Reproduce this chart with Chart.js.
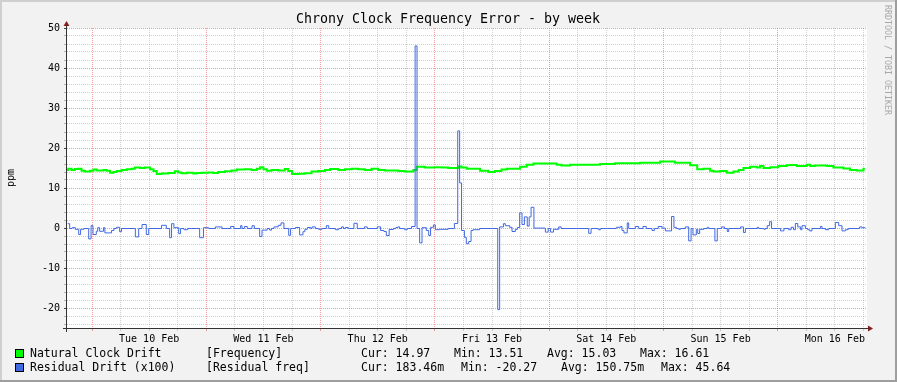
<!DOCTYPE html>
<html>
<head>
<meta charset="utf-8">
<script src="https://cdn.jsdelivr.net/npm/chart.js@4"></script>
<style>
  html,body{margin:0;padding:0;background:#f2f2f2}
  canvas{display:block}
</style>
</head>
<body>
<canvas id="c" width="897" height="382"></canvas>
<script>
// time axis: hours since Mon 9 Feb 00:00
const T_START = 18.75, T_END = 186.75;
const dayHours = [36, 60, 84, 108, 132, 156, 180];
const dayLabels = ['Tue 10 Feb','Wed 11 Feb','Thu 12 Feb','Fri 13 Feb','Sat 14 Feb','Sun 15 Feb','Mon 16 Feb'];
const gridHours = [24,30,36,42,48,54,60,66,72,78,84,90,96,102,108,114,120,126,132,138,144,150,156,162,168,174,180,186];
const yTicks = [-24,-22,-20,-18,-16,-14,-12,-10,-8,-6,-4,-2,0,2,4,6,8,10,12,14,16,18,20,22,24,26,28,30,32,34,36,38,40,42,44,46,48,50];

// Natural Clock Drift [Frequency], ppm  (time = start of each step)
const freqTime = [
  18.75,19.0,19.7,20.4,21.1,21.8,22.5,23.6,24.3,25.0,
  26.4,27.1,27.8,28.5,29.2,30.2,31.3,32.3,33.0,34.1,
  35.1,36.2,36.9,37.6,38.6,40.0,41.4,42.1,42.8,43.9,
  45.3,46.0,47.0,48.4,49.5,50.5,51.9,53.3,54.4,56.1,
  57.5,58.6,59.3,60.0,60.7,61.7,63.1,64.5,65.2,66.0,
  67.3,68.7,70.1,71.5,72.9,74.0,75.7,77.1,78.5,79.9,
  81.3,82.7,84.1,85.5,88.3,89.7,91.5,92.2,93.9,96.0,
  97.4,98.8,100.9,101.6,102.7,105.5,107.2,108.6,110.0,111.1,
  113.9,115.3,116.7,121.6,122.6,124.4,130.7,133.8,139.1,143.3,
  146.4,149.6,151.1,152.4,153.8,154.5,155.9,157.3,158.7,159.8,
  160.8,162.2,163.6,164.3,165.0,166.4,168.1,169.9,170.6,172.0,
  174.1,174.8,175.8,178.3,179.7,181.8,183.2,184.6,186.0,186.3
];
const freqValue = [
  14.5,14.8,14.5,14.75,14.8,14.3,14.1,14.3,14.6,14.4,
  14.5,14.3,13.8,14,14.25,14.5,14.7,14.8,15.1,15,
  15.1,14.7,14.25,13.5,13.6,13.75,14.2,13.9,13.7,13.8,
  13.6,13.75,13.8,13.9,13.75,14,14.2,14.4,14.6,14.7,
  14.5,14.8,15.2,14.7,14.3,14.5,14.4,14.75,14.25,13.51,
  13.55,13.7,14.1,14.25,14.5,14.75,14.5,14.7,14.8,14.7,
  14.5,14.8,14.5,14.4,14.25,14.1,14.5,15.3,15.1,15.2,
  15.1,15,15.4,15.1,14.8,14.3,14,14.25,14.6,14.8,
  15.3,15.8,16.1,15.8,15.6,15.8,16.0,16.2,16.3,16.6,
  16.3,15.7,14.7,14.8,14.3,14.1,14.25,13.8,14.1,14.5,
  15,15.3,15.1,15.5,15,15.2,15.5,15.7,15.75,15.5,
  15.8,15.5,15.6,15.5,15.1,14.9,14.5,14.4,14.8,14.8
];

// Residual Drift (x100) [Residual freq]  (time = start of each step)
const residTime = [
  18.75,19.2,19.7,20.4,21.1,21.5,22.2,23.2,23.7,24.1,
  24.8,25.1,25.5,26.3,26.6,28.0,28.5,29.0,29.7,30.1,
  33.0,33.7,34.4,35.3,35.8,38.5,39.5,40.2,40.6,41.1,
  42.1,42.5,43.2,44.0,46.5,47.3,48.4,49.8,51.2,53.0,
  53.7,55.1,55.4,55.9,56.5,57.5,58.0,59.1,59.6,60.7,
  61.2,61.6,62.1,63.0,63.6,64.2,65.2,65.6,66.6,67.5,
  68.2,68.6,69.1,69.8,70.1,70.8,71.5,72.2,73.1,73.6,
  75.0,75.7,76.3,76.7,77.1,77.7,78.9,79.6,81.1,81.7,
  83.8,84.5,85.2,85.7,86.3,87.2,87.7,88.1,88.5,89.5,
  90.1,91.0,91.75,92.15,92.7,93.2,94.1,94.6,95.0,95.6,
  96.0,96.9,98.7,100.0,100.7,101.1,101.5,102.1,102.5,103.0,
  103.5,103.9,105.3,109.1,109.5,110.3,110.7,111.6,112.1,112.8,
  113.2,113.7,114.2,114.7,115.3,115.7,116.1,116.7,119.1,119.7,
  120.2,120.8,121.9,122.4,128.2,128.7,130.2,130.7,134.0,134.9,
  135.2,135.6,136.3,136.6,138.0,138.7,139.6,140.3,141.5,142.0,
  142.8,143.6,144.3,145.6,146.1,146.6,147.1,147.5,148.5,149.2,
  149.7,150.1,150.8,151.1,151.5,152.4,153.1,153.4,154.7,155.2,
  156.1,156.7,157.3,157.6,160.1,160.7,161.1,163.6,163.9,165.0,
  165.3,165.7,166.2,166.6,168.5,169.2,170.2,170.7,171.2,171.6,
  172.1,172.7,173.0,173.7,174.2,174.6,175.1,176.9,177.2,177.9,
  178.6,180.0,180.7,181.4,182.1,182.7,185.1,185.6,186.3
];
const residValue = [
  1.2,0,0.2,-0.2,-1.5,-0.2,0,-2.6,0.7,-1.5,
  -0.7,0.2,-0.7,0.2,-1.1,-0.5,0,0.3,-0.8,0,
  -2.1,0,1,-1.5,0,0.8,0,-2.3,1.2,0.2,
  -1.3,0,-0.3,0,-2.3,0.2,0,0.4,0,0.5,
  0,0.7,0,0.5,0,0.7,0,-2,-0.4,0,
  -0.4,0,0.4,0.8,1.4,0,-1.7,0,0.25,-1.6,
  -0.8,-0.2,0.25,0,0.4,0,-0.2,0,0.7,0,
  -0.3,0,0.4,0,0.25,0,1.3,0,0.4,0,
  0.4,-0.5,-0.75,-1.75,-0.25,0,0.25,0.4,0,-0.3,
  0,0.5,45.64,0,-3.6,0.2,-0.5,-1.75,0.3,0.9,
  -0.3,-0.2,0,1.25,24.4,11.4,-0.5,-2.2,-3.8,-3.25,
  -0.5,-0.3,0,-20.27,0.4,1.2,0.7,0.3,-0.75,-0.25,
  0.25,3.9,1,2.9,0.6,2.9,5.3,0.1,-0.9,0,
  -0.9,-0.2,0.4,0,-1.2,0,-0.3,0,0.3,0.5,
  -0.5,-1.1,1.4,0,0.5,0,0.5,0,-0.5,0,
  0.5,0.1,-0.6,3,0.3,0,-0.2,0,0.4,-3.1,
  0,-1.6,-0.2,-1.25,-0.2,0,0.3,0,-3.1,0,
  0.4,0,-0.75,0,0.4,-1,0,0.3,0,-0.2,
  0,0.7,1.7,0,-0.6,0,-0.3,0.3,-0.3,1.25,
  0.4,-0.3,0.7,0,-0.3,-0.6,0,0.5,0,-0.3,
  0,1.5,0.7,-0.6,-0.3,0,0.4,0.2,0.2
];

// legend (gprint columns)
const legendNames = ['Natural Clock Drift', 'Residual Drift (x100)'];
const legendTags = ['[Frequency]', '[Residual freq]'];
const legendStats = [
  ['Cur: 14.97', 'Min: 13.51', 'Avg: 15.03', 'Max: 16.61'],
  ['Cur: 183.46m', 'Min: -20.27', 'Avg: 150.75m', 'Max: 45.64']
];
const legendStatX = [[361, 454, 547, 640], [361, 461, 561, 661]];

const GREEN = '#00ff00', BLUE = '#4169e1';
const MONO = "'DejaVu Sans Mono', monospace";
const MGRID = 'rgba(222,79,79,0.55)', GRID = 'rgba(150,150,150,0.45)';

const pts = (t, v) => t.map((x, i) => ({x, y: v[i]}));

// RRD-style frame, axes, arrows, title and legend
const rrdPlugin = {
  id: 'rrdFrame',
  beforeDraw(chart) {
    const {ctx, chartArea: a} = chart;
    ctx.save();
    ctx.fillStyle = '#f2f2f2';
    ctx.fillRect(0, 0, chart.width, chart.height);
    ctx.fillStyle = '#ffffff';
    ctx.fillRect(a.left, a.top, a.right - a.left, a.bottom - a.top);
    ctx.restore();
  },
  // 1px residual line: shift half a pixel so it lands crisp like rrdtool
  beforeDatasetDraw(chart, args) {
    chart.ctx.save();
    if (args.index === 1) chart.ctx.translate(0.5, 0.5);
  },
  afterDatasetDraw(chart) {
    chart.ctx.restore();
  },
  afterDraw(chart) {
    const {ctx, chartArea: a, width: W, height: H} = chart;
    ctx.save();
    // shaded border
    ctx.fillStyle = '#cfcfcf';
    ctx.fillRect(0, 0, W, 2); ctx.fillRect(0, 0, 2, H);
    ctx.fillStyle = '#9e9e9e';
    ctx.fillRect(0, H - 2, W, 2); ctx.fillRect(W - 2, 0, 2, H);

    // axes
    ctx.strokeStyle = '#333';
    ctx.lineWidth = 1;
    ctx.beginPath();
    ctx.moveTo(a.left - 0.5, a.bottom + 4); ctx.lineTo(a.left - 0.5, a.top - 2);
    ctx.moveTo(a.left - 4, a.bottom + 0.5); ctx.lineTo(a.right + 1, a.bottom + 0.5);
    ctx.stroke();
    ctx.fillStyle = '#801f1f';
    ctx.beginPath();
    ctx.moveTo(a.left - 0.5, a.top - 7); ctx.lineTo(a.left - 3.5, a.top - 2); ctx.lineTo(a.left + 2.5, a.top - 2);
    ctx.closePath(); ctx.fill();
    ctx.beginPath();
    ctx.moveTo(a.right + 6, a.bottom + 0.5); ctx.lineTo(a.right + 1, a.bottom - 2.5); ctx.lineTo(a.right + 1, a.bottom + 3.5);
    ctx.closePath(); ctx.fill();

    // title
    ctx.fillStyle = '#000';
    ctx.textAlign = 'center';
    ctx.textBaseline = 'middle';
    ctx.font = `13.3px ${MONO}`;
    ctx.fillText('Chrony Clock Frequency Error - by week', 448, 19.5);

    // unit label
    ctx.save();
    ctx.translate(11, (a.top + a.bottom) / 2);
    ctx.rotate(-Math.PI / 2);
    ctx.font = `10px ${MONO}`;
    ctx.fillText('ppm', 0, 0);
    ctx.restore();

    // watermark
    ctx.save();
    ctx.translate(887, 5);
    ctx.rotate(Math.PI / 2);
    ctx.textAlign = 'left';
    ctx.fillStyle = '#a8a8a8';
    ctx.font = `8.3px ${MONO}`;
    ctx.fillText('RRDTOOL / TOBI OETIKER', 0, 0);
    ctx.restore();

    // legend
    const colors = [GREEN, BLUE];
    const rowY = [354, 368];
    ctx.textAlign = 'left';
    ctx.font = `11.5px ${MONO}`;
    for (let r = 0; r < 2; r++) {
      ctx.fillStyle = colors[r];
      ctx.fillRect(15, rowY[r] - 5, 9, 9);
      ctx.strokeStyle = '#000';
      ctx.strokeRect(15.5, rowY[r] - 4.5, 8, 8);
      ctx.fillStyle = '#000';
      ctx.fillText(legendNames[r], 30, rowY[r]);
      ctx.fillText(legendTags[r], 206, rowY[r]);
      legendStats[r].forEach((s, i) => ctx.fillText(s, legendStatX[r][i], rowY[r]));
    }
    ctx.restore();
  }
};

new Chart(document.getElementById('c'), {
  type: 'line',
  plugins: [rrdPlugin],
  data: {
    datasets: [
      {
        label: 'Natural Clock Drift',
        data: pts(freqTime, freqValue),
        borderColor: GREEN, borderWidth: 2,
        stepped: 'before', pointRadius: 0, fill: false, order: 2
      },
      {
        label: 'Residual Drift (x100)',
        data: pts(residTime, residValue),
        borderColor: BLUE, borderWidth: 1,
        stepped: 'before', pointRadius: 0, fill: false, order: 1
      }
    ]
  },
  options: {
    responsive: false,
    animation: false,
    devicePixelRatio: 1,
    layout: {padding: {left: 0, top: 28, right: 30, bottom: 0}},
    plugins: {legend: {display: false}, tooltip: {enabled: false}, title: {display: false}},
    scales: {
      x: {
        type: 'linear', min: T_START, max: T_END,
        afterBuildTicks: s => { s.ticks = gridHours.map(v => ({value: v})); },
        afterFit: s => { s.height = 54; },
        border: {display: false, dash: [1, 1]},
        grid: {
          color: c => c.tick && c.tick.value % 24 === 0 ? MGRID : GRID,
          tickColor: c => c.tick && c.tick.value % 24 === 0 ? MGRID : GRID,
          tickLength: 3
        },
        ticks: {
          autoSkip: false, maxRotation: 0, minRotation: 0, padding: 2,
          color: '#000', font: {family: MONO, size: 10},
          callback: v => { const i = dayHours.indexOf(v); return i >= 0 ? dayLabels[i] : ''; }
        }
      },
      y: {
        min: -25, max: 50,
        afterBuildTicks: s => { s.ticks = yTicks.map(v => ({value: v})); },
        afterFit: s => { s.width = 67; },
        border: {display: false, dash: [1, 1]},
        grid: {
          color: c => c.tick && c.tick.value % 10 === 0 ? MGRID : GRID,
          tickColor: c => c.tick && c.tick.value % 10 === 0 ? '#444' : 'rgba(120,120,120,0.5)',
          tickLength: 3
        },
        ticks: {
          autoSkip: false, padding: 4,
          color: '#000', font: {family: MONO, size: 10},
          callback: v => v % 10 === 0 ? String(v) : ''
        }
      }
    }
  }
});
</script>
</body>
</html>
